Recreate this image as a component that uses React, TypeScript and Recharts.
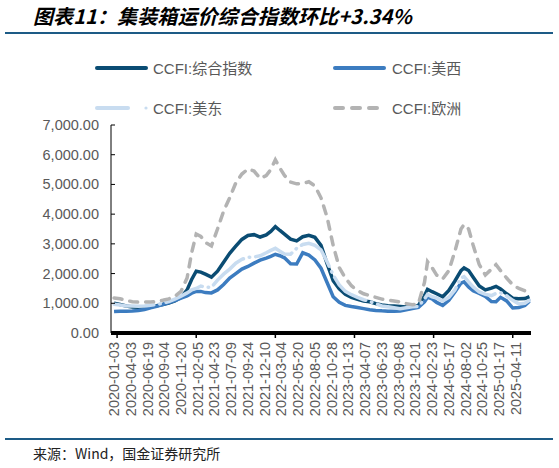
import React from 'react';
import { LineChart, Line, XAxis, YAxis } from 'recharts';

// week index (0 = 2020-01-03), sampled
const weeks = [
  0, 4, 8, 12, 16, 20, 24, 28, 32, 36, 40, 44, 48, 51, 54, 57, 60, 64, 68, 72, 76, 80, 84, 88, 92, 96,
  100, 103, 106, 109, 112, 116, 120, 124, 128, 132, 136, 140, 144, 148, 152, 156, 160, 164, 168, 172,
  176, 180, 184, 188, 192, 196, 200, 204, 206, 209, 212, 216, 220, 224, 228, 230, 233, 236, 240, 244,
  248, 251, 254, 258, 262, 266, 270, 273,
];

const composite = [
  1000, 960, 910, 875, 870, 880, 900, 920, 960, 1010, 1080, 1200, 1450, 1800, 2080, 2050, 1980, 1880,
  2080, 2380, 2680, 2920, 3150, 3280, 3310, 3230, 3300, 3420, 3580, 3450, 3330, 3160, 3100, 3240, 3290,
  3220, 2950, 2330, 1760, 1490, 1300, 1200, 1130, 1080, 1050, 990, 940, 915, 905, 890, 875, 870, 930,
  1250, 1470, 1390, 1320, 1220, 1430, 1750, 2100, 2190, 2100, 1880, 1580, 1450, 1510, 1570, 1480, 1320,
  1170, 1150, 1160, 1220,
];

const usWest = [
  720, 730, 735, 740, 760, 790, 850, 900, 960, 1020, 1090, 1170, 1250, 1340, 1400, 1400, 1360, 1350,
  1450, 1630, 1850, 2000, 2150, 2240, 2350, 2450, 2520, 2580, 2650, 2600, 2530, 2330, 2320, 2700, 2620,
  2460, 2180, 1700, 1220, 1030, 930, 890, 860, 820, 780, 760, 745, 735, 730, 740, 780, 820, 860, 1050,
  1200, 1150, 1030, 930, 1100, 1380, 1680, 1720, 1550, 1420, 1330, 1230, 1060, 1050, 1200, 1080, 840,
  860, 930, 1070,
];

const usEast = [
  970, 940, 910, 905, 900, 910, 930, 960, 1000, 1060, 1140, 1240, 1350, 1450, 1500, 1580, 1540, 1540,
  1780, 1980, 2150, 2350, 2480, 2550, 2560, 2600, 2700, 2780, 2850, 2750, 2660, 2650, 2850, 2980, 3020,
  2950, 2800, 2400, 1950, 1620, 1400, 1290, 1200, 1120, 1060, 990, 910, 880, 850, 820, 850, 880, 900,
  1150, 1300, 1220, 1180, 1080, 1200, 1450, 1850, 1900, 1720, 1550, 1380, 1300, 1260, 1330, 1360, 1250,
  1100, 980, 1000, 1100,
];

const europe = [
  1180, 1150, 1100, 1050, 1040, 1040, 1040, 1060, 1100, 1150, 1230, 1400, 1850, 2700, 3330, 3250, 3050,
  2930, 3500, 4100, 4550, 5050, 5350, 5520, 5450, 5200, 5300, 5500, 5830, 5550, 5300, 5080, 5020, 5030,
  5090, 4950, 4550, 3900, 2950, 2200, 1850, 1590, 1430, 1320, 1260, 1200, 1140, 1110, 1080, 1040, 990,
  950, 980, 1700, 2400, 2200, 1950, 1820, 2100, 2750, 3500, 3650, 3500, 2950, 2300, 1950, 2150, 2300,
  2100, 1850, 1620, 1500, 1420, 1380,
];

const tickLabels = [
  '2020-01-03', '2020-04-03', '2020-06-19', '2020-09-04', '2020-11-20', '2021-02-05', '2021-04-23',
  '2021-07-09', '2021-09-24', '2021-12-10', '2022-03-04', '2022-05-20', '2022-08-05', '2022-10-28',
  '2023-01-13', '2023-04-07', '2023-06-23', '2023-09-08', '2023-12-01', '2024-02-23', '2024-05-17',
  '2024-08-02', '2024-10-25', '2025-01-17', '2025-04-11',
];
const labelWeeks = tickLabels.map((_, i) => i * 11);
const markWeeks = [2, 54, 106, 158, 210, 262];
const yTicks = [0, 1000, 2000, 3000, 4000, 5000, 6000, 7000];

const data = weeks.map((w, i) => ({
  week: w,
  composite: composite[i],
  usWest: usWest[i],
  usEast: usEast[i],
  europe: europe[i],
}));

const NAVY = '#0a4c73';
const WEST = '#3c7cc0';
const EAST = '#c8dcf0';
const EUROPE = '#b3b3b3';
const FONT = "'Liberation Sans', Arial, 'Noto Sans CJK SC', sans-serif";
const GRAY = '#595959';

const XTick = (props: any) => {
  const { x, y, payload } = props;
  const v = payload.value;
  const li = labelWeeks.indexOf(v);
  return (
    <g>
      {markWeeks.includes(v) && <line x1={x} y1={y} x2={x} y2={y + 5} stroke="#000" strokeWidth={1.5} />}
      {li >= 0 && (
        <text
          x={x}
          y={y + 9}
          transform={`rotate(-90, ${x}, ${y + 9})`}
          textAnchor="end"
          dominantBaseline="central"
          fontSize={14.5}
          fontFamily={FONT}
          fill={GRAY}
        >
          {tickLabels[li]}
        </text>
      )}
    </g>
  );
};

const YTick = (props: any) => {
  const { x, y, payload } = props;
  const label = payload.value.toLocaleString('en-US', { minimumFractionDigits: 2, maximumFractionDigits: 2 });
  return (
    <g>
      <line x1={x} y1={y} x2={x + 4} y2={y} stroke="#000" />
      <text x={x - 12} y={y} textAnchor="end" dominantBaseline="central" fontSize={14.5} fontFamily={FONT} fill={GRAY}>
        {label}
      </text>
    </g>
  );
};

const LegendBox = () => (
  <svg width={559} height={130} style={{ position: 'absolute', left: 0, top: 0 }}>
    <g fontFamily={FONT} fontSize={15} fill={GRAY}>
      <line x1={97} y1={68} x2={146} y2={68} stroke={NAVY} strokeWidth={4} strokeLinecap="round" />
      <text x={153} y={68} dominantBaseline="central">CCFI:综合指数</text>
      <line x1={335} y1={68} x2={384} y2={68} stroke={WEST} strokeWidth={4} strokeLinecap="round" />
      <text x={392} y={68} dominantBaseline="central">CCFI:美西</text>
      <line x1={97} y1={108} x2={128} y2={108} stroke={EAST} strokeWidth={4} strokeLinecap="round" />
      <circle cx={146} cy={108} r={1.6} fill={EAST} />
      <text x={153} y={108} dominantBaseline="central">CCFI:美东</text>
      <line x1={335} y1={108} x2={384} y2={108} stroke={EUROPE} strokeWidth={4} strokeLinecap="round" strokeDasharray="8 9" />
      <text x={392} y={108} dominantBaseline="central">CCFI:欧洲</text>
    </g>
  </svg>
);

export default function App() {
  return (
    <div style={{ position: 'absolute', left: 0, top: 0, width: 559, height: 468, background: '#fff', overflow: 'hidden' }}>
      <div
        style={{
          position: 'absolute',
          left: 33,
          top: 3,
          fontSize: 20,
          fontWeight: 'bold',
          fontStyle: 'italic',
          fontFamily: "'Noto Sans CJK SC', sans-serif",
          letterSpacing: 0.1,
          color: '#000',
          lineHeight: '26px',
          whiteSpace: 'nowrap',
        }}
      >
        图表11：集装箱运价综合指数环比+3.34%
      </div>
      <div style={{ position: 'absolute', left: 5, top: 32, width: 548, height: 1.5, background: '#1d5b86' }} />
      <LegendBox />
      <div style={{ position: 'absolute', left: 0, top: 0 }}>
        <LineChart width={559} height={468} data={data} margin={{ top: 125, right: 28, bottom: 45, left: 31 }}>
          <XAxis
            type="number"
            dataKey="week"
            domain={[-2, 274]}
            ticks={[...labelWeeks, ...markWeeks].sort((a, b) => a - b)}
            interval={0}
            tickLine={false}
            tickSize={0}
            tickMargin={0}
            axisLine={{ stroke: '#000', strokeWidth: 4 }}
            tick={<XTick />}
            height={90}
            allowDataOverflow
          />
          <YAxis
            type="number"
            domain={[0, 7000]}
            ticks={yTicks}
            interval={0}
            width={80}
            tickLine={false}
            tickSize={0}
            tickMargin={0}
            axisLine={{ stroke: '#000', strokeWidth: 1 }}
            tick={<YTick />}
          />
          <Line type="linear" dataKey="composite" stroke={NAVY} strokeWidth={3.5} dot={false} isAnimationActive={false} />
          <Line type="linear" dataKey="usWest" stroke={WEST} strokeWidth={3.5} dot={false} isAnimationActive={false} />
          <Line
            type="linear"
            dataKey="usEast"
            stroke={EAST}
            strokeWidth={3.5}
            strokeDasharray="40 6 0.5 6"
            strokeLinecap="round"
            dot={false}
            isAnimationActive={false}
          />
          <Line
            type="linear"
            dataKey="europe"
            stroke={EUROPE}
            strokeWidth={3.5}
            strokeDasharray="8 8"
            strokeLinecap="round"
            dot={false}
            isAnimationActive={false}
          />
        </LineChart>
      </div>
      <div style={{ position: 'absolute', left: 5, top: 438, width: 548, height: 1.5, background: '#1d5b86' }} />
      <div
        style={{
          position: 'absolute',
          left: 33,
          top: 444,
          fontSize: 14,
          fontFamily: "'Noto Sans CJK SC', serif",
          color: '#222',
          lineHeight: '18px',
          whiteSpace: 'nowrap',
        }}
      >
        来源：Wind，国金证券研究所
      </div>
    </div>
  );
}
